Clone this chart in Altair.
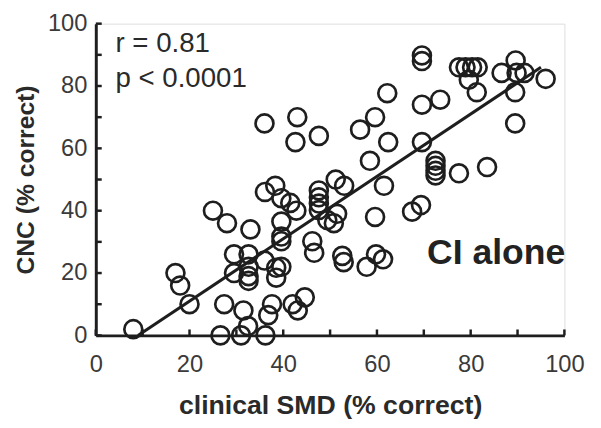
import altair as alt
import pandas as pd

# clinical SMD (% correct) vs CNC (% correct)
smd = [8, 17, 18, 20, 25, 28, 33, 29.5, 29.5, 32.6, 32.6, 32.6, 32.6, 36, 27.4,
       31.5, 32.5, 26.6, 31, 36.2, 36.8, 37.6, 38.5, 38.5, 39.6, 39.6, 39.6, 39.6,
       36.1, 38.3, 39.6, 41.5, 42.8, 47.6, 47.6, 47.6, 47.6, 51.2, 53, 49.4, 50.8,
       51.5, 46.2, 46.6, 52.6, 52.9, 42, 43.1, 44.6, 36, 43, 42.6, 47.6, 56.4,
       59.6, 62.4, 58.5, 62.2, 61.5, 59.6, 67.5, 69.4, 57.8, 59.8, 61.3, 69.6,
       69.6, 77.5, 78.9, 80.3, 81.5, 79.6, 81.3, 69.6, 73.5, 69.6, 72.5, 72.5,
       72.5, 72.5, 77.5, 83.5, 89.6, 86.6, 89.8, 91.5, 96, 89.5, 89.5]
cnc = [2, 20, 16, 10, 40, 36, 34, 26, 20, 26, 22, 19, 17.5, 24, 10,
       8, 3, 0, 0, 0, 6.5, 10, 18.5, 21.7, 22, 36.5, 31.7, 30.2,
       46, 48, 44, 42.5, 40, 46.5, 44.3, 42.3, 40.2, 50, 48, 37, 36,
       39, 30.2, 26.5, 25.5, 23.5, 10, 8, 12.2, 68, 70, 62, 64, 66,
       70, 62, 56, 77.7, 48, 38, 39.7, 41.8, 22, 26, 24.4, 89.8,
       88, 86, 86, 86, 86, 82, 78, 74, 75.6, 62, 56, 54.4,
       52.8, 51.3, 52, 54, 88.2, 84.2, 84.2, 84.2, 82.3, 78, 68]

fit_x = [9, 95]
fit_y = [0, 86]

tick_vals = [0, 10, 20, 30, 40, 50, 60, 70, 80, 90, 100]
label_vals = [0, 20, 40, 60, 80, 100]

W, H = 475, 316
FONT = "Liberation Sans"
INK = "#1e1e1e"

pts = pd.DataFrame({"smd": smd, "cnc": cnc})
fit = pd.DataFrame({"smd": fit_x, "cnc": fit_y})
ticks = pd.DataFrame({"v": tick_vals})

xs = alt.Scale(domain=[0, 100], nice=False, zero=False)
ys = alt.Scale(domain=[0, 100], nice=False, zero=False)

xax = alt.Axis(values=label_vals, tickSize=0, labelFontSize=24, labelFont=FONT,
               labelColor="#3a3a3a", labelPadding=18, domainWidth=3, domainColor=INK,
               grid=False, title="clinical SMD (% correct)", titleFont=FONT,
               titleFontSize=27, titleFontWeight="bold", titleColor="#2a2a2a",
               titlePadding=16, labelFlush=False)
yax = alt.Axis(values=label_vals, tickSize=0, labelFontSize=24, labelFont=FONT,
               labelColor="#3a3a3a", labelPadding=9, domainWidth=3, domainColor=INK,
               grid=False, title="CNC (% correct)", titleFont=FONT,
               titleFontSize=25, titleFontWeight="bold", titleColor="#2a2a2a",
               titlePadding=9, labelFlush=False)

points = alt.Chart(pts).mark_point(shape="circle", filled=False, size=330,
                                   strokeWidth=2.7, color=INK, opacity=1).encode(
    x=alt.X("smd:Q", scale=xs, axis=xax),
    y=alt.Y("cnc:Q", scale=ys, axis=yax),
)

line = alt.Chart(fit).mark_line(color=INK, strokeWidth=3).encode(
    x=alt.X("smd:Q", scale=xs),
    y=alt.Y("cnc:Q", scale=ys),
)

xticks = alt.Chart(ticks).mark_rule(color=INK, strokeWidth=2.5).encode(
    x=alt.X("v:Q", scale=xs),
    y=alt.value(H),
    y2=alt.value(H - 6),
)
yticks = alt.Chart(ticks).mark_rule(color=INK, strokeWidth=2.5).encode(
    y=alt.Y("v:Q", scale=ys),
    x=alt.value(0),
    x2=alt.value(6),
)

stats = alt.Chart(pd.DataFrame({"t": ["r = 0.81", "p < 0.0001"], "x": [4.2, 4.2], "y": [90.8, 79.7]})).mark_text(
    align="left", baseline="alphabetic", fontSize=28, font=FONT, color="#2a2a2a").encode(
    x=alt.X("x:Q", scale=xs), y=alt.Y("y:Q", scale=ys), text="t:N")

label = alt.Chart(pd.DataFrame({"t": ["CI alone"], "x": [70.7], "y": [22.8]})).mark_text(
    align="left", baseline="alphabetic", fontSize=36, fontWeight="bold", font=FONT,
    color="#222222").encode(
    x=alt.X("x:Q", scale=xs), y=alt.Y("y:Q", scale=ys), text="t:N")

chart = alt.layer(xticks, yticks, line, points, stats, label).properties(
    width=W, height=H,
    autosize=alt.AutoSizeParams(type="none"),
    padding={"left": 89, "top": 13, "right": 29, "bottom": 91},
).configure_view(stroke=None).configure(background="white")

chart.save("out.html", embed_options={"renderer": "svg", "actions": False})
